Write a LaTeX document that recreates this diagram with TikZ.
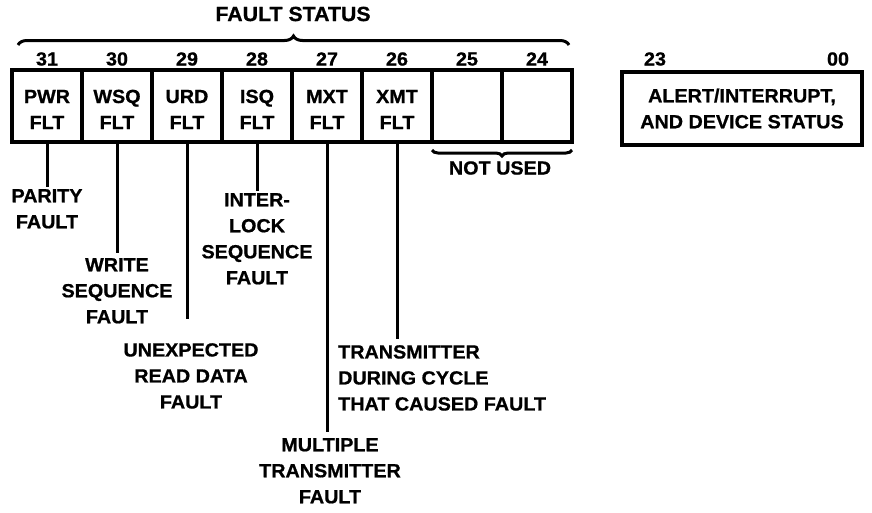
\documentclass[tikz,border=0pt]{standalone}
\usepackage{fontspec}
\setmainfont{Liberation Sans}[FakeStretch=1.04, BoldFeatures={FakeBold=0.8}]
\usetikzlibrary{decorations.pathreplacing}

\begin{document}
\begin{tikzpicture}[
    x=1pt, y=1pt,
    font=\fontsize{19}{26}\selectfont\bfseries,
    cell/.style ={draw, line width=3.5pt, minimum width=70pt, minimum height=72pt,
                  inner sep=0pt, outer sep=0pt, align=center},
    bitno/.style={inner sep=0pt},
    lbl/.style  ={align=center, inner sep=2pt},
    lead/.style ={line width=3pt},
    brc/.style  ={decorate, decoration={brace, amplitude=9pt}, line width=3pt}
  ]
    \useasboundingbox (0,0) rectangle (872,-512);

    %-----------------  Registro de bits 31..24  --------------------
    \def\w{70}                          % ancho de cada celda
    \def\xo{47}                         % centro de la celda 31
    \foreach \i/\b/\t in {0/31/PWR, 1/30/WSQ, 2/29/URD, 3/28/ISQ, 4/27/MXT, 5/26/XMT}{
        \node[cell] (b\b) at (\xo+\i*\w,-106) {\rule{0pt}{20pt}\t\\FLT};
        \node[bitno] at (\xo+\i*\w,-59) {\b};
    }
    \foreach \i/\b in {6/25, 7/24}{
        \node[cell] (b\b) at (\xo+\i*\w,-106) {};
        \node[bitno] at (\xo+\i*\w,-59) {\b};
    }

    % Llaves superiores e inferiores
    \draw[brc] (18,-45) -- (569,-45);
    \node[font=\fontsize{20.5}{26}\selectfont\bfseries] (fs) at (293,-14) {FAULT STATUS};
    \draw[brc, decoration={brace, mirror, amplitude=6pt}]
        ([yshift=-8pt]b25.south west) -- ([yshift=-8pt]b24.south east);
    \node (nu) at (500,-168) {NOT USED};

    %-----------------  Registro de bits 23..00  --------------------
    \node[cell, minimum width=240pt, minimum height=73pt] (stat) at (742,-108.5)
        {ALERT/INTERRUPT,\\AND DEVICE STATUS};
    \node[bitno] at (655,-59) {23};
    \node[bitno] at (838,-59) {00};

    %-----------------  Etiquetas de cada bit  ----------------------
    \node[lbl, anchor=north] (par) at (47,-187) {PARITY\\FAULT};
    \node[lbl, anchor=north] (wsf) at (117,-256) {WRITE\\SEQUENCE\\FAULT};
    \node[lbl, anchor=north] (ilk) at (257,-191) {INTER-\\LOCK\\SEQUENCE\\FAULT};
    \node[lbl, anchor=north] (urf) at (191,-341) {UNEXPECTED\\READ DATA\\FAULT};
    \node[lbl, anchor=north west, align=left] (xmf) at (336,-343)
        {TRANSMITTER\\DURING CYCLE\\THAT CAUSED FAULT};
    \node[lbl, anchor=north] (mxf) at (330,-436) {MULTIPLE\\TRANSMITTER\\FAULT};

    % Lineas de referencia
    \draw[lead] (b31.south) -- (b31.south |- par.north);
    \draw[lead, shorten >=3pt] (b30.south) -- (b30.south |- wsf.north);
    \draw[lead] (b28.south) -- (b28.south |- ilk.north);
    \draw[lead, shorten >=22pt] (b29.south) -- (b29.south |- urf.north);
    \draw[lead, shorten >=4pt] (b26.south) -- (b26.south |- xmf.north);
    \draw[lead, shorten >=4pt] (b27.south) -- (b27.south |- mxf.north);
\end{tikzpicture}
\end{document}
